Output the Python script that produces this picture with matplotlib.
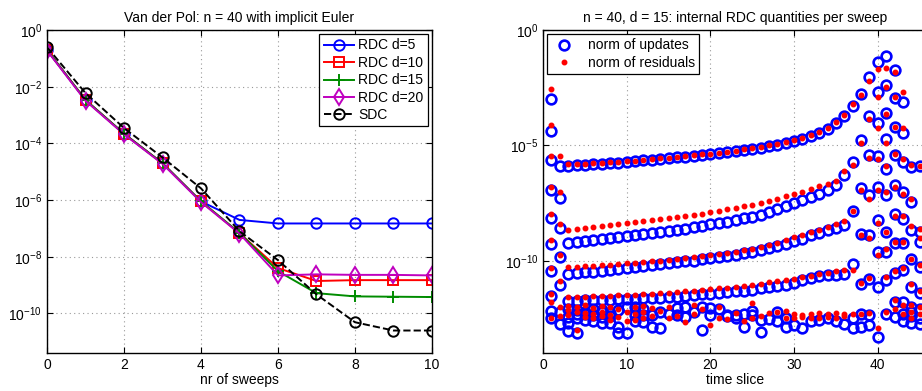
import numpy as np
import matplotlib.pyplot as plt
from matplotlib.ticker import NullLocator

plt.rcParams['font.family'] = ['Liberation Sans', 'DejaVu Sans']
plt.rcParams['font.size'] = 10
plt.rcParams['mathtext.default'] = 'regular'

nan = np.nan

# =========================
# left panel: error vs. nr of sweeps
# =========================
sweeps = np.arange(11)
err_rdc5  = [2.0e-1, 3.4e-3, 2.2e-4, 2.0e-5, 9.0e-7, 2.0e-7, 1.5e-7, 1.5e-7, 1.5e-7, 1.5e-7, 1.5e-7]
err_rdc10 = [2.0e-1, 3.4e-3, 2.2e-4, 2.0e-5, 9.0e-7, 6.8e-8, 4.0e-9, 1.4e-9, 1.5e-9, 1.5e-9, 1.5e-9]
err_rdc15 = [2.0e-1, 3.4e-3, 2.2e-4, 2.0e-5, 9.0e-7, 7.0e-8, 3.1e-9, 5.2e-10, 4.0e-10, 3.9e-10, 3.8e-10]
err_rdc20 = [1.9e-1, 3.2e-3, 2.1e-4, 1.9e-5, 8.5e-7, 6.6e-8, 2.2e-9, 2.4e-9, 2.3e-9, 2.3e-9, 2.2e-9]
err_sdc   = [2.5e-1, 6.0e-3, 3.5e-4, 3.2e-5, 2.6e-6, 8.0e-8, 7.6e-9, 4.7e-10, 4.9e-11, 2.5e-11, 2.5e-11]

# =========================
# right panel: log10 of norms per time slice (1..45), one list per sweep
# =========================
slices = np.arange(1, 46)

upd1 = [-3.0, -5.9,
        -5.89, -5.86, -5.84, -5.82, -5.80, -5.77, -5.74, -5.71, -5.68, -5.65,
        -5.62, -5.58, -5.55, -5.52, -5.48, -5.45, -5.41, -5.37, -5.33, -5.29,
        -5.24, -5.19, -5.14, -5.09, -5.03, -4.96, -4.88, -4.80, -4.70, -4.60,
        -4.47, -4.30, -4.04, -3.74,
        -3.3, -2.77, -2.02, -1.4, -1.11, -1.75, -3.13, -5.93, -5.9]
res1 = [-2.54, -5.45,
        -5.80, -5.80, -5.79, -5.77, -5.75, -5.73, -5.71, -5.69, -5.66, -5.63,
        -5.60, -5.56, -5.53, -5.50, -5.46, -5.43, -5.39, -5.35, -5.31, -5.27,
        -5.22, -5.17, -5.12, -5.06, -5.00, -4.93, -4.85, -4.77, -4.67, -4.56,
        -4.43, -4.25, -3.99, -3.68,
        -3.22, -2.8, -2.19, -1.7, -1.63, -1.8, -2.67, -5.86, -5.9]

upd2 = [-4.37, -7.28,
        -9.23, -9.18, -9.13, -9.09, -9.05, -9.01, -8.97, -8.93, -8.89, -8.85,
        -8.80, -8.75, -8.70, -8.65, -8.60, -8.54, -8.48, -8.42, -8.36, -8.30,
        -8.23, -8.16, -8.08, -8.00, -7.90, -7.76, -7.62, -7.50, -7.38, -7.23,
        -7.10, -6.93, -6.70, -6.28,
        -5.71, -4.77, -3.73, -2.67, -2.38, -2.96, -4.48, -7.45, -8.75]
res2 = [-4.13, -7.03,
        -8.65, -8.61, -8.57, -8.53, -8.49, -8.45, -8.41, -8.37, -8.33, -8.29,
        -8.25, -8.20, -8.15, -8.10, -8.05, -8.00, -7.95, -7.89, -7.83, -7.77,
        -7.71, -7.64, -7.56, -7.48, -7.39, -7.30, -7.20, -7.10, -7.00, -6.88,
        -6.77, -6.65, -6.52, -6.12,
        -5.86, -4.91, -3.87, -2.91, -2.45, -2.89, -4.26, -7.3, -8.6]

upd3 = [-5.64, -8.57,
        -10.57, -10.54, -10.50, -10.47, -10.43, -10.39, -10.35, -10.31, -10.27, -10.23,
        -10.19, -10.15, -10.11, -10.07, -10.03, -9.99, -9.94, -9.89, -9.84, -9.79,
        -9.73, -9.67, -9.60, -9.53, -9.45, -9.36, -9.26, -9.16, -9.04, -8.90,
        -8.80, -8.68, -8.57, -8.46,
        -7.84, -6.85, -5.42, -4.02, -3.59, -4.19, -5.71, -8.65, -9.19]
res3 = [-5.47, -8.39,
        -10.28, -10.26, -10.24, -10.22, -10.20, -10.17, -10.14, -10.11, -10.08, -10.05,
        -10.02, -9.99, -9.96, -9.92, -9.88, -9.84, -9.80, -9.76, -9.71, -9.66,
        -9.60, -9.54, -9.48, -9.41, -9.33, -9.23, -9.12, -8.97, -8.90, -8.75,
        -8.65, -8.55, -8.41, -8.28,
        -7.84, -6.95, -5.55, -4.26, -3.65, -4.2, -5.6, -8.5, -9.0]

upd4 = [-6.91, -9.84,
        -11.75, -11.73, -11.72, -11.70, -11.69, -11.68, -11.67, -11.66, -11.65, -11.63,
        -11.62, -11.60, -11.58, -11.55, -11.52, -11.49, -11.46, -11.43, -11.40, -11.37,
        -11.33, -11.29, -11.25, -11.20, -11.15, -11.10, -11.03, -10.95, -10.85, -10.74,
        -10.68, -10.62, -10.60, -10.57,
        -10.16, -8.83, -7.16, -5.46, -4.74, -5.42, -7.02, -9.91, -10.28]
res4 = [-6.8, -9.73,
        -11.58, -11.56, -11.55, -11.54, -11.53, -11.52, -11.50, -11.49, -11.47, -11.45,
        -11.43, -11.41, -11.39, -11.36, -11.33, -11.30, -11.27, -11.24, -11.20, -11.16,
        -11.12, -11.08, -11.04, -10.99, -10.94, -10.89, -10.83, -10.77, -10.71, -10.65,
        -10.59, -10.52, -10.46, -10.40,
        -10.4, -8.9, -7.3, -5.6, -4.9, -5.35, -7.1, -9.91, -10.2]

upd5 = [-8.13, -11.03,
        -12.1, -12.15, -12.2, -12.1, -12.2, -12.25, -12.15, -12.0, -12.35, -12.1,
        -12.35, -12.2, -12.3, -12.05, -12.0, -12.24, -12.0, -12.05, -12.1, -12.33,
        -12.35, -12.3, -12.16, -12.55, -12.52, -12.2, -12.5, -12.8, -12.9, -12.6,
        -12.55, -12.5, -12.6, -12.75,
        -12.5, -11.0, -8.9, -6.8, -6.04, -6.73, -8.2, -11.15, -11.4]
res5 = [-7.96, -10.89,
        -11.95, -12.0, -11.9, -12.05, -11.95, -12.0, -12.1, -12.2, -12.0, -11.95,
        -12.05, -12.16, -12.0, -12.4, -12.64, -11.9, -12.08, -12.8, -12.02, -12.52,
        -12.28, -12.6, -11.84, -12.4, -12.28, -12.2, -12.16, -12.3, -12.35, -12.3,
        -12.28, -12.3, -12.25, -12.3,
        -12.3, -10.95, -9.0, -6.95, -5.9, -6.8, -8.05, -11.0, -11.3]

upd6 = [-9.29, -12.2,
        -12.45, -12.5, -12.55, -12.6, -12.45, -12.7, -12.85, -13.15, -12.0, -12.35,
        -12.85, -12.9, nan, -12.35, -12.45, nan, -13.0, -12.35, nan, -12.4,
        -12.5, -12.86, -12.35, -13.1, nan, -12.6, -12.86, nan, nan, nan,
        nan, nan, nan, nan,
        -12.9, -12.3, -10.78, -8.22, -7.16, -7.99, -9.25, -12.0, -12.1]
res6 = [-9.12, -12.0,
        -12.15, -12.2, -12.25, -12.3, -12.2, -12.35, -12.45, -12.6, -12.3, -12.2,
        -12.4, nan, -12.5, nan, nan, -12.3, nan, nan, -12.5, nan,
        nan, nan, -12.5, nan, nan, nan, -12.5, -12.5, -12.45, -12.5,
        -12.5, -12.45, -12.5, -12.4,
        nan, -12.3, -10.75, -8.35, -7.0, -8.05, -9.2, -11.9, -12.0]

upd7 = [-10.46, -12.74,
        -13.05, -13.15, nan, nan, -12.7, nan, -13.15, nan, nan, -12.65,
        nan, nan, nan, nan, nan, nan, nan, nan, nan, nan,
        nan, nan, nan, nan, nan, nan, nan, nan, nan, nan,
        nan, nan, nan, nan,
        nan, -12.85, -12.35, -9.63, -8.75, -9.23, -10.42, -12.4, -12.5]
res7 = [-10.32, -12.4,
        -12.35, -13.0, -12.45, -12.5, -12.4, -12.55, nan, nan, -12.55, -12.5,
        nan, nan, nan, nan, nan, nan, nan, nan, nan, nan,
        nan, nan, nan, nan, nan, nan, nan, nan, nan, nan,
        nan, nan, nan, nan,
        nan, nan, -12.25, -9.75, -8.75, -9.2, -10.3, -12.2, -12.3]

upd8 = [-11.51, nan,
        -12.7, -12.3, -12.3, -12.35, -12.15, -12.4, nan, nan, -12.6, nan,
        nan, nan, nan, nan, nan, nan, nan, nan, nan, nan,
        nan, nan, nan, nan, nan, nan, nan, nan, nan, nan,
        nan, nan, nan, nan,
        nan, nan, -12.8, -11.15, -9.63, -10.54, -11.8, -12.7, -12.75]
res8 = [-11.43, nan,
        nan, nan, nan, nan, nan, nan, nan, nan, nan, nan,
        nan, nan, nan, nan, nan, nan, nan, nan, nan, nan,
        nan, nan, nan, nan, nan, nan, nan, nan, nan, nan,
        nan, nan, nan, nan,
        nan, nan, nan, -12.9, -9.5, -10.45, -11.9, -12.5, nan]

upd9 = [-12.16, nan] + [nan] * 34 + [nan, nan, nan, -13.3, -10.83, -11.8, -12.6, -12.2, nan]
res9 = [-11.8, nan] + [nan] * 34 + [nan, nan, nan, nan, -10.7, -11.7, -12.3, nan, nan]
upd10 = [-12.5, nan] + [nan] * 34 + [nan, nan, nan, nan, -12.3, -12.45, -12.3, nan, nan]
res10 = [-12.5, nan] + [nan] * 34 + [nan, nan, nan, nan, -12.2, -12.1, nan, nan, nan]

updates = [upd1, upd2, upd3, upd4, upd5, upd6, upd7, upd8, upd9, upd10]
residuals = [res1, res2, res3, res4, res5, res6, res7, res8, res9, res10]

# =========================
# figure
# =========================
fig = plt.figure(figsize=(9.22, 3.91), dpi=100)
ax1 = fig.add_axes([0.051, 0.097, 0.4175, 0.826])
ax2 = fig.add_axes([0.589, 0.097, 0.4175, 0.826])

green = (0.0, 0.55, 0.0)
lw = 1.4
ax1.plot(sweeps, err_rdc5, '-o', color='b', lw=lw, ms=7.5, mfc='none', mew=lw, label='RDC d=5')
ax1.plot(sweeps, err_rdc10, '-s', color='r', lw=lw, ms=7.5, mfc='none', mew=lw, label='RDC d=10')
ax1.plot(sweeps, err_rdc15, '-+', color=green, lw=lw, ms=8, mew=lw, label='RDC d=15')
ax1.plot(sweeps, err_rdc20, '-d', color='m', lw=lw, ms=8, mfc='none', mew=lw, label='RDC d=20')
ax1.plot(sweeps, err_sdc, '--o', color='k', lw=lw, ms=7.5, mfc='none', mew=lw, label='SDC')
ax1.set_yscale('log')
ax1.set_xlim(0, 10)
ax1.set_ylim(4e-12, 1)
ax1.set_yticks([1e0, 1e-2, 1e-4, 1e-6, 1e-8, 1e-10])
ax1.yaxis.set_minor_locator(NullLocator())
ax1.set_xticks([0, 2, 4, 6, 8, 10])
ax1.set_xlabel('nr of sweeps', labelpad=1)
ax1.set_title('Van der Pol: n = 40 with implicit Euler', fontsize=10, pad=6)
ax1.grid(True, ls=(0, (1, 3)), color='0.6', lw=0.8)
leg1 = ax1.legend(loc='upper right', fancybox=False, edgecolor='k', framealpha=1,
                  borderaxespad=0.3, handlelength=2.2, labelspacing=0.25,
                  borderpad=0.3, handletextpad=0.3)
leg1.get_frame().set_linewidth(0.9)

for k in range(len(updates)):
    lab = 'norm of updates' if k == 0 else None
    ax2.plot(slices, 10.0 ** np.array(updates[k]), 'o', color='b', ms=7, mfc='none',
             mew=1.9, label=lab)
for k in range(len(residuals)):
    lab = 'norm of residuals' if k == 0 else None
    ax2.plot(slices, 10.0 ** np.array(residuals[k]), '.', color='r', ms=6.5, label=lab)
ax2.set_yscale('log')
ax2.set_xlim(0, 46)
ax2.set_ylim(1e-14, 1)
ax2.set_yticks([1e0, 1e-5, 1e-10])
ax2.yaxis.set_minor_locator(NullLocator())
ax2.set_xticks([0, 10, 20, 30, 40])
ax2.set_xlabel('time slice', labelpad=1)
ax2.set_title('n = 40, d = 15: internal RDC quantities per sweep', fontsize=10, pad=6)
ax2.grid(True, ls=(0, (1, 3)), color='0.6', lw=0.8)
leg2 = ax2.legend(loc='upper left', fancybox=False, edgecolor='k', framealpha=1,
                  borderaxespad=0.3, handlelength=1.8, labelspacing=0.25,
                  borderpad=0.3, handletextpad=0.8, numpoints=1)
leg2.get_frame().set_linewidth(0.9)

for ax in (ax1, ax2):
    ax.tick_params(direction='in', top=True, right=True, length=4, width=0.8, labelsize=10)
    for s in ax.spines.values():
        s.set_linewidth(1.0)

fig.savefig('out.png', dpi=100)
